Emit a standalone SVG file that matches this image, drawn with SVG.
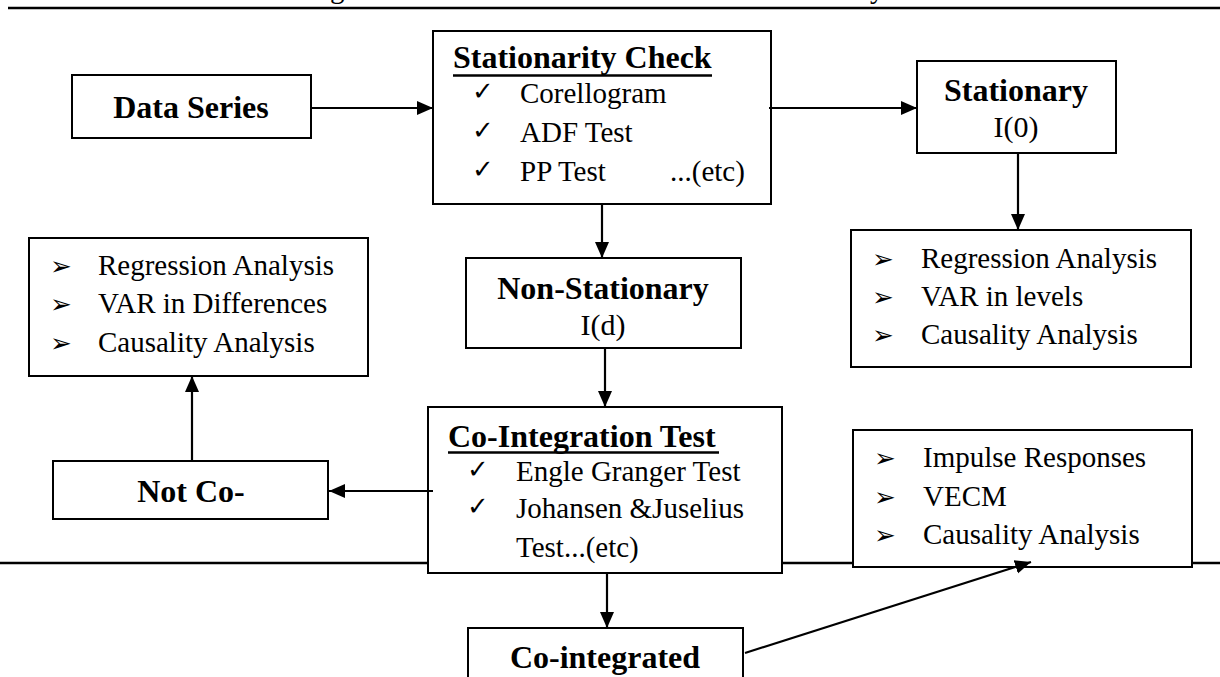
<svg xmlns="http://www.w3.org/2000/svg" width="1220" height="677" viewBox="0 0 1220 677">
<style>
.box{fill:#fff;stroke:#000;stroke-width:2}
.rule{stroke:#000;stroke-width:2.5;fill:none}
.con{stroke:#000;stroke-width:2.2;fill:none;marker-end:url(#ah)}
.b{font-family:"Liberation Serif","Times New Roman",serif;font-weight:bold;font-size:32px;fill:#000}
.r{font-family:"Liberation Serif","Times New Roman",serif;font-size:29px;fill:#000}
.ck{font-family:"DejaVu Sans",sans-serif;font-size:26px;fill:#000}
.bl{font-family:"DejaVu Sans",sans-serif;font-size:26px;fill:#000}
.mid{text-anchor:middle}
</style>
<defs>
<marker id="ah" markerUnits="userSpaceOnUse" markerWidth="17" markerHeight="15" refX="16" refY="7" orient="auto">
<path d="M0,0 L16,7 L0,14 z" fill="#000"/>
</marker>
</defs>
<g id="rules">
<text class="r" x="330" y="-2">g</text>
<text class="r" x="870" y="-2">y</text>
<line class="rule" x1="8" y1="8" x2="1220" y2="8"/>
<line class="rule" x1="0" y1="563" x2="1220" y2="563"/>
</g>
<g id="data-series">
<rect class="box" x="72" y="75" width="239" height="63"/>
<text class="b mid" x="191" y="118">Data Series</text>
</g>
<g id="stationarity-check">
<rect class="box" x="433" y="31" width="338" height="173"/>
<text class="b" x="453" y="68">Stationarity Check</text>
<line x1="453" y1="75.5" x2="712" y2="75.5" stroke="#000" stroke-width="2.5"/>
<text class="ck" x="472" y="100">✓</text>
<text class="r" x="520" y="103">Corellogram</text>
<text class="ck" x="472" y="139">✓</text>
<text class="r" x="520" y="142">ADF Test</text>
<text class="ck" x="472" y="178">✓</text>
<text class="r" x="520" y="181">PP Test</text>
<text class="r" x="670" y="181">...(etc)</text>
</g>
<g id="stationary">
<rect class="box" x="917" y="61" width="199" height="92"/>
<text class="b mid" x="1016" y="101">Stationary</text>
<text class="r mid" x="1016" y="137" style="font-size:30px">I(0)</text>
</g>
<g id="levels-list">
<rect class="box" x="851" y="230" width="340" height="137"/>
<text class="bl" x="872" y="268">➢</text>
<text class="r" x="921" y="268">Regression Analysis</text>
<text class="bl" x="872" y="306">➢</text>
<text class="r" x="921" y="306">VAR in levels</text>
<text class="bl" x="872" y="344">➢</text>
<text class="r" x="921" y="344">Causality Analysis</text>
</g>
<g id="non-stationary">
<rect class="box" x="466" y="258" width="275" height="90"/>
<text class="b mid" x="603" y="299">Non-Stationary</text>
<text class="r mid" x="603" y="335" style="font-size:30px">I(d)</text>
</g>
<g id="differences-list">
<rect class="box" x="29" y="238" width="339" height="138"/>
<text class="bl" x="50" y="275">➢</text>
<text class="r" x="98" y="275">Regression Analysis</text>
<text class="bl" x="50" y="313">➢</text>
<text class="r" x="98" y="313">VAR in Differences</text>
<text class="bl" x="50" y="352">➢</text>
<text class="r" x="98" y="352">Causality Analysis</text>
</g>
<g id="not-co">
<rect class="box" x="53" y="461" width="275" height="58"/>
<text class="b mid" x="191" y="502">Not Co-</text>
</g>
<g id="co-integration-test">
<rect class="box" x="428" y="407" width="354" height="166"/>
<text class="b" x="448" y="447">Co-Integration Test</text>
<line x1="448" y1="452.5" x2="719" y2="452.5" stroke="#000" stroke-width="2.5"/>
<text class="ck" x="467" y="478">✓</text>
<text class="r" x="516" y="481">Engle Granger Test</text>
<text class="ck" x="467" y="515">✓</text>
<text class="r" x="516" y="518">Johansen &amp;Juselius</text>
<text class="r" x="516" y="557">Test...(etc)</text>
</g>
<g id="vecm-list">
<rect class="box" x="853" y="430" width="339" height="137"/>
<text class="bl" x="874" y="467">➢</text>
<text class="r" x="923" y="467">Impulse Responses</text>
<text class="bl" x="874" y="506">➢</text>
<text class="r" x="923" y="506">VECM</text>
<text class="bl" x="874" y="544">➢</text>
<text class="r" x="923" y="544">Causality Analysis</text>
</g>
<g id="co-integrated">
<rect class="box" x="468" y="628" width="275" height="70"/>
<text class="b mid" x="605" y="668">Co-integrated</text>
</g>
<g id="connectors">
<path class="con" d="M311,108 L433,108"/>
<path class="con" d="M769,108 L917,108"/>
<path class="con" d="M1018,153 L1018,230"/>
<path class="con" d="M602,204 L602,258"/>
<path class="con" d="M605,348 L605,407"/>
<path class="con" d="M433,491 L329,491"/>
<path class="con" d="M192,461 L192,376"/>
<path class="con" d="M607,573 L607,628"/>
<path class="con" d="M745,653 L1031,562"/>
</g>
</svg>
